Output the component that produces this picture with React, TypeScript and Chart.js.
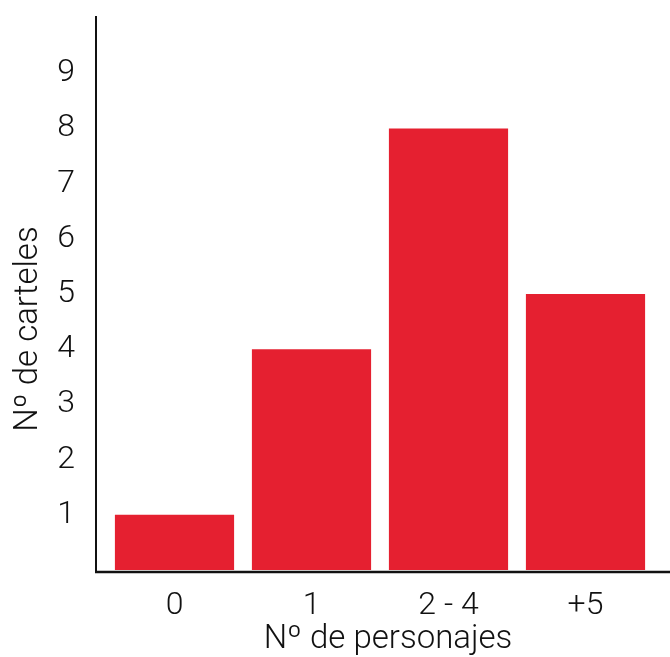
import React, { useEffect, useRef } from "react";
import { Chart, registerables } from "chart.js";

Chart.register(...registerables);

const categories = ["0", "1", "2 - 4", "+5"];
const values = [1, 4, 8, 5];
const yTickValues = [1, 2, 3, 4, 5, 6, 7, 8, 9];
const xTitle = "Nº de personajes";
const yTitle = "Nº de carteles";

const FONT = "Roboto, 'Liberation Sans', sans-serif";

const axesPlugin = {
  id: "customAxes",
  afterDraw(chart: any) {
    const ctx = chart.ctx;
    const area = chart.chartArea;
    ctx.save();
    ctx.strokeStyle = "#111";
    ctx.lineWidth = 2;
    ctx.beginPath();
    ctx.moveTo(96, 16);
    ctx.lineTo(96, area.bottom + 2);
    ctx.stroke();
    ctx.lineWidth = 2.5;
    ctx.beginPath();
    ctx.moveTo(95, area.bottom + 2);
    ctx.lineTo(chart.width, area.bottom + 2);
    ctx.stroke();

    ctx.fillStyle = "#111";
    ctx.font = `300 33px ${FONT}`;
    ctx.textAlign = "center";
    ctx.textBaseline = "middle";
    ctx.fillText(xTitle, 388, 640);
    ctx.translate(29, 329);
    ctx.rotate(-Math.PI / 2);
    ctx.fillText(yTitle, 0, 0);
    ctx.restore();
  },
};

export default function App() {
  const ref = useRef<HTMLCanvasElement>(null);
  useEffect(() => {
    document.body.style.margin = "0";
    const chart = new Chart(ref.current!, {
      type: "bar",
      data: {
        labels: categories,
        datasets: [
          {
            data: values,
            backgroundColor: "#e52030",
            barPercentage: 0.87,
            categoryPercentage: 1,
          },
        ],
      },
      options: {
        responsive: false,
        animation: false,
        layout: { padding: { top: 18, right: 16, left: 0, bottom: 0 } },
        plugins: { legend: { display: false }, tooltip: { enabled: false } },
        scales: {
          x: {
            grid: { display: false, drawTicks: false },
            border: { display: false },
            ticks: {
              color: "#111",
              font: { family: FONT, size: 32, weight: "300" as any },
              padding: 17,
            },
            afterFit(s: any) {
              s.height = 87;
              s.paddingLeft = 0;
              s.paddingRight = 0;
            },
          },
          y: {
            min: 0,
            max: 10,
            grid: { display: false, drawTicks: false },
            border: { display: false },
            afterBuildTicks(s: any) {
              s.ticks = yTickValues.map((v) => ({ value: v }));
            },
            ticks: {
              color: "#111",
              font: { family: FONT, size: 32, weight: "300" as any },
              padding: 31,
            },
            afterFit(s: any) {
              s.width = 106;
              s.paddingTop = 0;
              s.paddingBottom = 0;
            },
          },
        },
      },
      plugins: [axesPlugin],
    });
    return () => chart.destroy();
  }, []);
  return <canvas ref={ref} width={670} height={657} />;
}
